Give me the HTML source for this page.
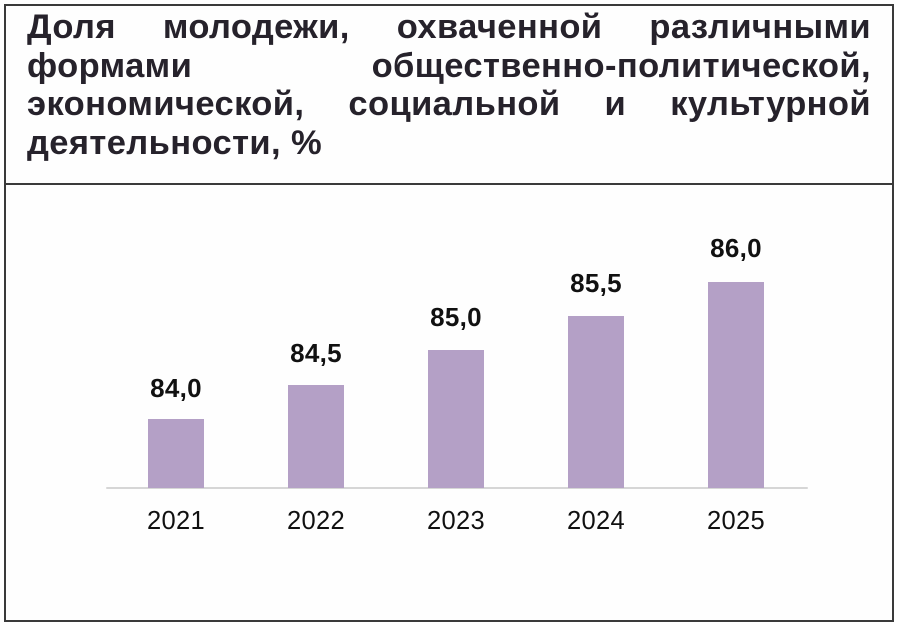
<!DOCTYPE html>
<html>
<head>
<meta charset="utf-8">
<style>
  html, body { margin: 0; padding: 0; background: #ffffff; }
  body { width: 900px; height: 627px; position: relative; overflow: hidden; }
  .frame { position: absolute; left: 4px; top: 4px; width: 886px; height: 614px; border: 2px solid #3a3a3a; background: #fefefe; }
  .divider { position: absolute; left: 5px; top: 183px; width: 888px; height: 2px; background: #3a3a3a; }
  .title { position: absolute; left: 27px; top: 8px; width: 844px; font-family: "Liberation Sans", "DejaVu Sans", sans-serif; font-weight: bold; font-size: 34.5px; line-height: 38.5px; color: #26222b; letter-spacing: 0.4px; }
  .title div { white-space: nowrap; }
  .title .j { text-align: justify; text-align-last: justify; white-space: normal; }
  svg { position: absolute; left: 0; top: 0; }
</style>
</head>
<body>
<div class="frame"></div>
<div class="divider"></div>
<div class="title">
  <div class="j">Доля молодежи, охваченной различными</div>
  <div class="j">формами общественно-политической,</div>
  <div class="j">экономической, социальной и культурной</div>
  <div>деятельности, %</div>
</div>
<svg width="900" height="627" xmlns="http://www.w3.org/2000/svg">
  <line x1="107" y1="488" x2="807" y2="488" stroke="#d6d6d6" stroke-width="2" stroke-linecap="round"/>
  <g fill="#b4a0c6">
    <rect x="148" y="419" width="56" height="69"/>
    <rect x="288" y="385" width="56" height="103"/>
    <rect x="428" y="350" width="56" height="138"/>
    <rect x="568" y="316" width="56" height="172"/>
    <rect x="708" y="282" width="56" height="206"/>
  </g>
  <g font-family="Liberation Sans, Arial, sans-serif" font-weight="bold" font-size="26" fill="#111" text-anchor="middle" letter-spacing="0.3">
    <text x="176" y="397">84,0</text>
    <text x="316" y="362">84,5</text>
    <text x="456" y="326">85,0</text>
    <text x="596" y="292">85,5</text>
    <text x="736" y="257">86,0</text>
  </g>
  <g font-family="Liberation Sans, Arial, sans-serif" font-size="25.5" fill="#111" text-anchor="middle" letter-spacing="0.3">
    <text x="176" y="529">2021</text>
    <text x="316" y="529">2022</text>
    <text x="456" y="529">2023</text>
    <text x="596" y="529">2024</text>
    <text x="736" y="529">2025</text>
  </g>
</svg>
</body>
</html>
